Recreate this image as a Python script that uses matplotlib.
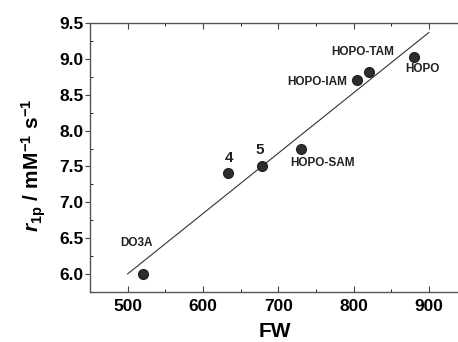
import numpy as np
import matplotlib
matplotlib.use("Agg")
import matplotlib.pyplot as plt
from matplotlib.ticker import MultipleLocator

plt.rcParams['font.family'] = ['Liberation Sans', 'DejaVu Sans']
plt.rcParams['mathtext.fontset'] = 'custom'
plt.rcParams['mathtext.rm'] = 'Liberation Sans:bold'
plt.rcParams['mathtext.it'] = 'Liberation Sans:italic:bold'
plt.rcParams['mathtext.bf'] = 'Liberation Sans:bold'

# data
labels = ["DO3A", "4", "5", "HOPO-SAM", "HOPO-IAM", "HOPO-TAM", "HOPO"]
fw = [520, 633, 678, 730, 805, 821, 880]
r1p = [6.00, 7.41, 7.51, 7.75, 8.70, 8.81, 9.02]
# label text positions (data coords) and sizes
label_x = [512, 634, 676, 759, 752, 812, 891]
label_y = [6.43, 7.62, 7.73, 7.55, 8.68, 9.09, 8.86]
label_size = [8.5, 11, 11, 8.5, 8.5, 8.5, 8.5]
fit_range = [500, 900]
xticks = [500, 600, 700, 800, 900]
yticks = [6.0, 6.5, 7.0, 7.5, 8.0, 8.5, 9.0, 9.5]

fig = plt.figure(figsize=(4.58, 3.42), dpi=100)
ax = fig.add_axes([90/458, 50/342, 369/458, 269/342])

slope, intercept = np.polyfit(fw, r1p, 1)
xf = np.array(fit_range, dtype=float)
ax.plot(xf, slope*xf + intercept, color='#333333', lw=0.8)
ax.plot(fw, r1p, 'o', color='#2e2e2e', markersize=7, markeredgecolor='#222222')

for t, x, y, s in zip(labels, label_x, label_y, label_size):
    ax.text(x, y, t, ha='center', va='center', fontsize=s, fontweight='bold', color='#222222')

ax.set_xlim(450, 940)
ax.set_ylim(5.75, 9.5)
ax.set_xticks(xticks)
ax.set_yticks(yticks)
ax.set_yticklabels([f"{v:.1f}" for v in yticks])
ax.xaxis.set_minor_locator(MultipleLocator(50))
ax.yaxis.set_minor_locator(MultipleLocator(0.25))
ax.tick_params(axis='both', which='major', labelsize=12.5, width=0.8, color='#444444')
ax.tick_params(axis='x', which='both', direction='in', top=True, bottom=True)
ax.tick_params(axis='y', which='major', direction='out', length=3.5, pad=1)
ax.tick_params(axis='y', which='minor', direction='in', length=2.5)
ax.tick_params(axis='x', which='major', length=4, pad=5)
ax.tick_params(axis='x', which='minor', length=2.5)
for lab in ax.get_xticklabels() + ax.get_yticklabels():
    lab.set_fontweight('bold')
for sp in ax.spines.values():
    sp.set_color('#555555')
    sp.set_linewidth(1.0)
ax.spines['right'].set_visible(False)

ax.set_xlabel('FW', fontsize=15, fontweight='bold', labelpad=6)
ax.set_ylabel(r'$\it{r}_{\rm{1p}}\rm{\ /\ mM^{-1}\ s^{-1}}$', fontsize=15)
ax.yaxis.set_label_coords(-0.115, 0.47)

fig.savefig('out.png', dpi=100)
